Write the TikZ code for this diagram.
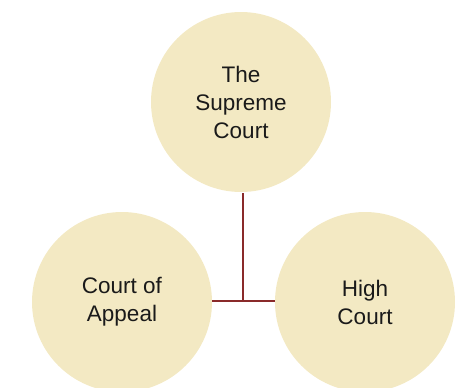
\documentclass[tikz,border=0pt]{standalone}
\usepackage{fontspec}
\setmainfont{Liberation Sans}
\definecolor{courtfill}{HTML}{F3E9C3}
\definecolor{linkred}{HTML}{8A2A2A}
\definecolor{txt}{HTML}{1A1A1A}
\begin{document}
\begin{tikzpicture}[x=1pt,y=-1pt,
  court/.style={circle,fill=courtfill,draw=none,minimum size=180pt,inner sep=0pt,
    align=center,text=txt,font=\fontsize{22.5}{28}\selectfont},
  link/.style={draw=linkred,line width=2pt}]
\useasboundingbox (0,0) rectangle (471,388);
\node[court] (sc) at (241,102) {The\\Supreme\\Court};
\node[court] (ca) at (122,302) {Court of\\Appeal};
\node[court] (hc) at (365,302) {High\\Court};
\coordinate (j) at (243,301);
\draw[link] ([yshift=-1pt]sc.south -| j) -- (j);
\draw[link] (ca.east |- j) -- (hc.west |- j);
\end{tikzpicture}
\end{document}
